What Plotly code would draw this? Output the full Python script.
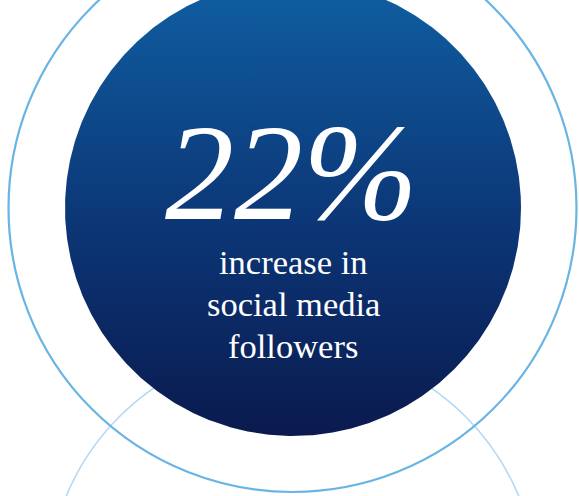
import numpy as np
import plotly.graph_objects as go

# ---- data ----
stat_value = "22%"
stat_label_lines = ["increase in", "social media", "followers"]

W, H = 579, 496

# geometry (pixel space)
outer_center = (292.5, 208)
outer_radius = 284
disc_center = (293, 208)
disc_radius = 228
lower_center = (292.5, 590)
lower_radius = 245

fig = go.Figure()

# lower light ring (behind everything)
fig.add_shape(type="circle", xref="x", yref="y",
              x0=lower_center[0] - lower_radius, x1=lower_center[0] + lower_radius,
              y0=lower_center[1] - lower_radius, y1=lower_center[1] + lower_radius,
              line=dict(color="#b5d9f2", width=1.6), layer="below")

# outer ring
fig.add_shape(type="circle", xref="x", yref="y",
              x0=outer_center[0] - outer_radius, x1=outer_center[0] + outer_radius,
              y0=outer_center[1] - outer_radius, y1=outer_center[1] + outer_radius,
              line=dict(color="#6ab4e4", width=2.2), layer="below")

# gradient filled disc
t = np.linspace(0, 2 * np.pi, 721)
dx = disc_center[0] + disc_radius * np.cos(t)
dy = disc_center[1] + disc_radius * np.sin(t)
fig.add_trace(go.Scatter(
    x=dx, y=dy, mode="lines", fill="toself",
    line=dict(width=0, color="rgba(0,0,0,0)"),
    fillgradient=dict(type="vertical",
                      colorscale=[[0, "#0a1a4e"], [0.45, "#0c3575"], [1, "#0f5fa2"]]),
    hoverinfo="skip", showlegend=False))

# big number
fig.add_annotation(x=291, y=221, xref="x", yref="y", text="<i>" + stat_value + "</i>",
                   showarrow=False, yanchor="bottom", xanchor="center",
                   font=dict(family="Liberation Serif", size=138, color="white"),
                   yshift=-30)

# label lines
baselines = [275, 317, 359]
for line, yb in zip(stat_label_lines, baselines):
    fig.add_annotation(x=293, y=yb, xref="x", yref="y", text=line,
                       showarrow=False, yanchor="bottom", xanchor="center",
                       font=dict(family="Liberation Serif", size=34.5, color="white"),
                       yshift=-8)

fig.update_xaxes(range=[0, W], visible=False, fixedrange=True)
fig.update_yaxes(range=[H, 0], visible=False, fixedrange=True)
fig.update_layout(width=W, height=H, margin=dict(l=0, r=0, t=0, b=0),
                  paper_bgcolor="white", plot_bgcolor="white", showlegend=False)

fig.write_html("out.html", config={"displayModeBar": False},
               post_script="document.body.style.margin='0';document.body.style.padding='0';")
